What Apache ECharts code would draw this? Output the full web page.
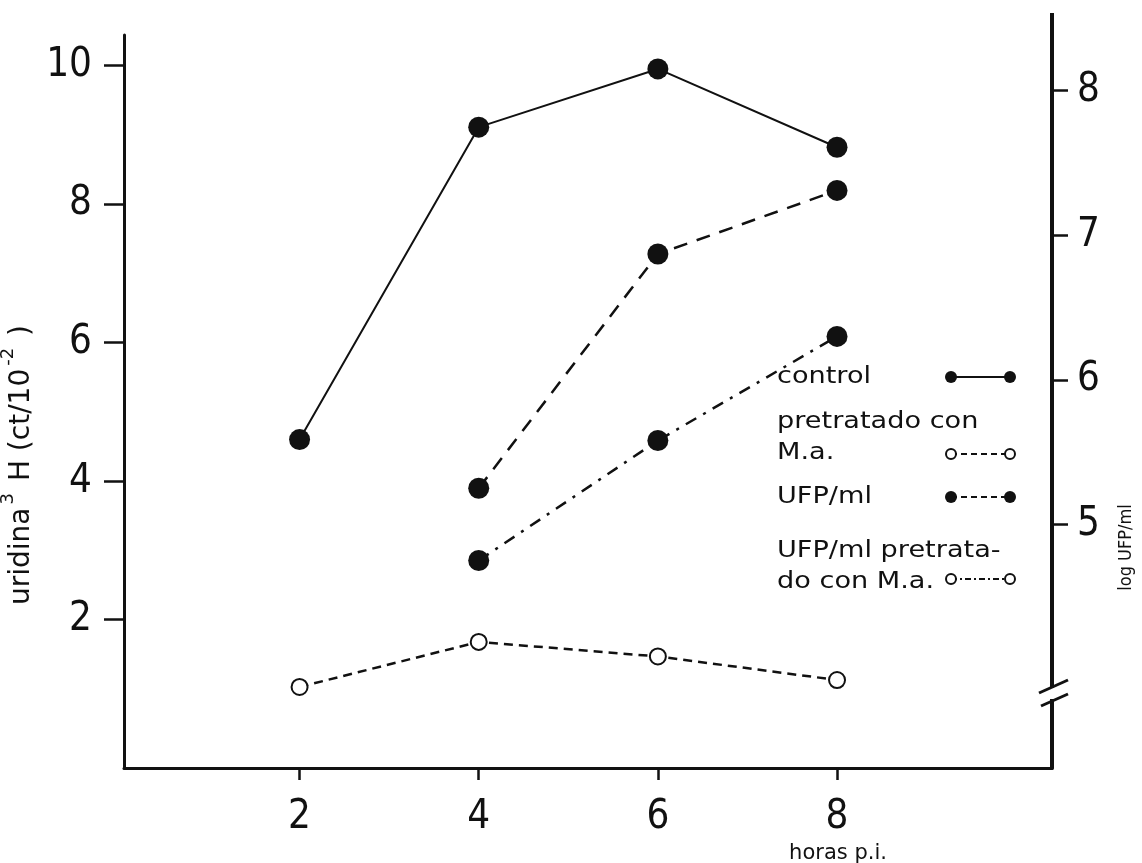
<!DOCTYPE html>
<html>
<head>
<meta charset="utf-8">
<script src="https://cdn.jsdelivr.net/npm/echarts@6/dist/echarts.min.js"></script>
<style>
html,body{margin:0;padding:0;background:#fff;overflow:hidden;width:1142px;height:863px;}
#chart{width:1142px;height:863px;}
</style>
</head>
<body>
<div id="chart"></div>
<script>
// ---- data ----
const hours = [2, 4, 6, 8];
const uridinaControl = [4.60, 9.11, 9.95, 8.82];      // left axis, solid, filled
const uridinaPretratado = [1.03, 1.68, 1.47, 1.13];   // left axis, dashed, open
const ufpHours = [4, 6, 8];
const logUfp = [5.25, 6.87, 7.31];                    // right axis, dashed, filled
const logUfpPretratado = [4.75, 5.58, 6.30];          // right axis, dash-dot, filled
const xTicks = [2, 4, 6, 8];
const leftTicks = [2, 4, 6, 8, 10];
const rightTicks = [5, 6, 7, 8];
const legendNames = ['control', 'pretratado con\nM.a.', 'UFP/ml', 'UFP/ml pretrata-\ndo con M.a.'];

const INK = '#111';
const NUM_FONT = "'Liberation Sans Narrow', 'DejaVu Sans Condensed', 'Liberation Sans', sans-serif";
const TXT_FONT = "'DejaVu Sans', 'Liberation Sans', sans-serif";

function pairs(xs, ys) { return xs.map((x, i) => [x, ys[i]]); }

const chart = echarts.init(document.getElementById('chart'), null, {renderer: 'canvas', width: 1142, height: 863});

// legend drawn as graphic decorations (text left, line sample right)
const legendG = [];
function legendText(lines, x, yTop) {
  legendG.push({type: 'text', left: x, top: yTop, z: 100, scaleX: 1.18,
    style: {text: lines, font: "23px " + TXT_FONT, fill: INK, lineHeight: 31}});
}
function sample(y, dash, filled) {
  legendG.push({type: 'line', z: 100, shape: {x1: 951, y1: y, x2: 1010, y2: y},
    style: {stroke: INK, lineWidth: 2, lineDash: dash}});
  [951, 1010].forEach(cx => legendG.push({type: 'circle', z: 101, shape: {cx: cx, cy: y, r: filled ? 6 : 5},
    style: {fill: filled ? INK : '#fff', stroke: INK, lineWidth: filled ? 0 : 2}}));
}
legendText(legendNames[0], 777, 362); sample(377, null, true);
legendText(legendNames[1], 777, 407); sample(454, [6, 4], false);
legendText(legendNames[2], 777, 482); sample(497, [6, 4], true);
legendText(legendNames[3], 777, 536); sample(579, [6, 3, 2, 3], false);

const option = {
  backgroundColor: '#fff',
  animation: false,
  grid: {left: 124, right: 90, top: 35, bottom: 95, containLabel: false, outerBoundsMode: 'none'},
  xAxis: {
    type: 'value', min: 0.04, max: 10.4,
    name: 'horas p.i.', nameLocation: 'middle', nameGap: 72,
    nameTextStyle: {fontFamily: TXT_FONT, fontSize: 21, color: INK, padding: [0, 0, 0, 500]},
    axisLine: {show: true, onZero: false, lineStyle: {color: INK, width: 3}},
    axisTick: {show: true, length: 12, lineStyle: {color: INK, width: 2.5}, customValues: xTicks},
    axisLabel: {fontFamily: NUM_FONT, fontSize: 40, color: INK, margin: 30, customValues: xTicks},
    splitLine: {show: false}
  },
  yAxis: [
    {
      type: 'value', position: 'left', min: -0.14, max: 10.44,
      name: '{n|uridina}{sup|3}{n| H (ct/10}{sup|-2}{n| )}',
      nameLocation: 'middle', nameRotate: 90, nameGap: 74,
      nameTextStyle: {color: INK, padding: [0, 127, 0, 0],
        rich: {
          n: {fontFamily: TXT_FONT, fontSize: 28, color: INK, lineHeight: 36, verticalAlign: 'bottom'},
          sup: {fontFamily: TXT_FONT, fontSize: 18, color: INK, lineHeight: 36, verticalAlign: 'top', padding: [0, 3, 0, 3]}
        }},
      axisLine: {show: true, onZero: false, lineStyle: {color: INK, width: 3}},
      axisTick: {show: true, length: 20, lineStyle: {color: INK, width: 2.5}, customValues: leftTicks},
      axisLabel: {fontFamily: NUM_FONT, fontSize: 40, color: INK, margin: 32, customValues: leftTicks},
      splitLine: {show: false}
    },
    {
      type: 'value', position: 'right', min: 3.315, max: 8.385,
      name: 'log UFP/ml', nameLocation: 'middle', nameRotate: 90, nameGap: 65,
      nameTextStyle: {fontFamily: "'DejaVu Sans Condensed', sans-serif", fontSize: 18, color: INK, padding: [0, 292, 0, 0]},
      axisLine: {show: true, onZero: false, lineStyle: {color: INK, width: 4}},
      axisTick: {show: true, length: 16, lineStyle: {color: INK, width: 2.5}, customValues: rightTicks},
      axisLabel: {fontFamily: NUM_FONT, fontSize: 40, color: INK, margin: 25, customValues: rightTicks},
      splitLine: {show: false}
    }
  ],
  series: [
    {
      name: 'control', type: 'line', yAxisIndex: 0, data: pairs(hours, uridinaControl),
      symbol: 'circle', symbolSize: 21,
      lineStyle: {color: INK, width: 2}, itemStyle: {color: INK}
    },
    {
      name: 'pretratado con M.a.', type: 'line', yAxisIndex: 0, data: pairs(hours, uridinaPretratado),
      symbol: 'emptyCircle', symbolSize: 16,
      lineStyle: {color: INK, width: 2.5, type: [9, 6]}, itemStyle: {color: INK, borderColor: INK, borderWidth: 3}
    },
    {
      name: 'UFP/ml', type: 'line', yAxisIndex: 1, data: pairs(ufpHours, logUfp),
      symbol: 'circle', symbolSize: 21,
      lineStyle: {color: INK, width: 2.5, type: [14, 10]}, itemStyle: {color: INK}
    },
    {
      name: 'UFP/ml pretratado con M.a.', type: 'line', yAxisIndex: 1, data: pairs(ufpHours, logUfpPretratado),
      symbol: 'circle', symbolSize: 21,
      lineStyle: {color: INK, width: 2.5, type: [12, 8, 3, 8]}, itemStyle: {color: INK}
    }
  ],
  graphic: [
    // top extension of the right axis above the plot area
    {type: 'line', z: 100, shape: {x1: 1052, y1: 13, x2: 1052, y2: 36}, style: {stroke: INK, lineWidth: 4}},
    // axis break mark on the right axis
    {type: 'line', z: 100, shape: {x1: 1052, y1: 688, x2: 1052, y2: 699}, style: {stroke: '#fff', lineWidth: 6}},
    {type: 'line', z: 101, shape: {x1: 1039, y1: 693, x2: 1068, y2: 680}, style: {stroke: INK, lineWidth: 3}},
    {type: 'line', z: 101, shape: {x1: 1041, y1: 706, x2: 1068, y2: 694}, style: {stroke: INK, lineWidth: 3}}
  ].concat(legendG)
};
chart.setOption(option);
</script>
</body>
</html>
